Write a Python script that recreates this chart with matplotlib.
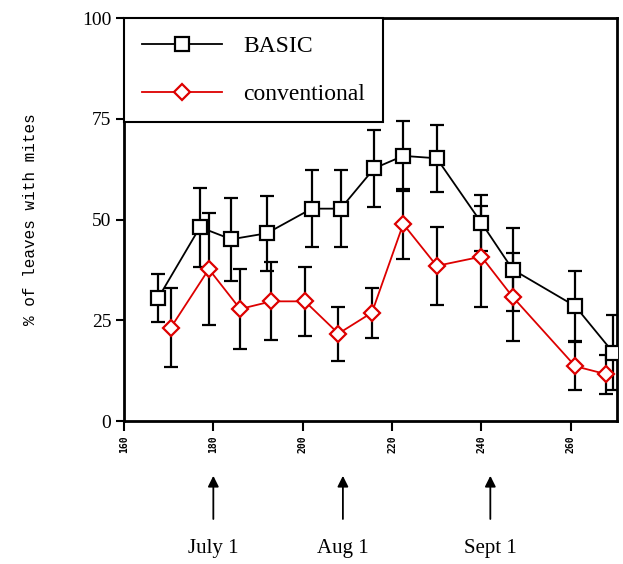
import numpy as np
from matplotlib import pyplot as plt
from matplotlib.lines import Line2D

# day of year / % of leaves with mites
basic_day = [167.7, 177, 184, 192, 202, 208.5, 216, 222.5, 230, 240, 247, 261, 269.5]
basic_pct = [30.6, 48.1, 45.1, 46.6, 52.7, 52.7, 62.7, 65.8, 65.2, 49.2, 37.6, 28.5, 17.0]
basic_err = [6.0, 9.8, 10.3, 9.3, 9.6, 9.6, 9.6, 8.7, 8.3, 7.0, 10.2, 8.7, 9.2]

conv_day = [170.5, 179, 186, 193, 200.5, 208, 215.5, 222.5, 230, 240, 247, 261, 268]
conv_pct = [23.2, 37.7, 27.8, 29.7, 29.7, 21.7, 26.9, 48.9, 38.5, 40.8, 30.8, 13.6, 11.6]
conv_err = [9.8, 13.8, 10.0, 9.7, 8.5, 6.7, 6.2, 8.8, 9.7, 12.5, 11.0, 6.0, 4.9]

month_day = [180, 209, 242]
month_label = ["July 1", "Aug 1", "Sept 1"]

x_ticks = [160, 180, 200, 220, 240, 260]
y_ticks = [0, 25, 50, 75, 100]

red = '#dd0000'

fig = plt.figure(figsize=(6.23, 5.64), dpi=100)
ax = fig.add_axes([0.199, 0.2535, 0.791, 0.7145])

ax.errorbar(basic_day, basic_pct, yerr=basic_err, color='black', ecolor='black',
            elinewidth=1.6, capsize=5, capthick=1.6, lw=1.3, marker='s', ms=10,
            mfc='white', mec='black', mew=1.6, zorder=3)
ax.errorbar(conv_day, conv_pct, yerr=conv_err, color=red, ecolor='black',
            elinewidth=1.6, capsize=5, capthick=1.6, lw=1.3, marker='D', ms=8,
            mfc='white', mec=red, mew=1.6, zorder=3)

ax.set_xlim(160, 270.3)
ax.set_ylim(0, 100)
ax.set_xticks(x_ticks)
ax.set_yticks(y_ticks)
ax.set_xticklabels([str(t) for t in x_ticks], rotation=90, fontsize=7,
                   family='DejaVu Sans Mono', fontweight='bold')
ax.set_yticklabels([str(t) for t in y_ticks], fontsize=14, family='Liberation Serif')
ax.tick_params(axis='x', direction='out', length=7, width=1.5, pad=3)
ax.tick_params(axis='y', direction='out', length=6, width=1.5, pad=3)
for sp in ax.spines.values():
    sp.set_linewidth(2)

ax.set_ylabel('% of leaves with mites', fontsize=11.5, family='Liberation Mono', labelpad=32)

handles = [Line2D([], [], color='black', lw=1.3, marker='s', ms=10, mfc='white',
                  mec='black', mew=1.6),
           Line2D([], [], color=red, lw=1.3, marker='D', ms=8, mfc='white',
                  mec=red, mew=1.6)]
leg = ax.legend(handles, ['BASIC', 'conventional'], loc='upper left',
                bbox_to_anchor=(0, 1), borderaxespad=0,
                fancybox=False, edgecolor='black', handlelength=3.4,
                handletextpad=0.9, borderpad=0.75, labelspacing=1.1,
                prop={'family': 'Liberation Serif', 'size': 17})
leg.get_frame().set_linewidth(1.5)
leg.get_frame().set_alpha(1)

trans = ax.get_xaxis_transform()
for d, lab in zip(month_day, month_label):
    ax.annotate('', xy=(d, -0.129), xytext=(d, -0.25), xycoords=trans, textcoords=trans,
                arrowprops=dict(arrowstyle='-|>', color='black', lw=1.3, mutation_scale=16),
                annotation_clip=False)
    ax.text(d, -0.316, lab, transform=trans, ha='center', va='center',
            fontsize=15, family='Liberation Serif')

fig.savefig('out.png', dpi=100)
